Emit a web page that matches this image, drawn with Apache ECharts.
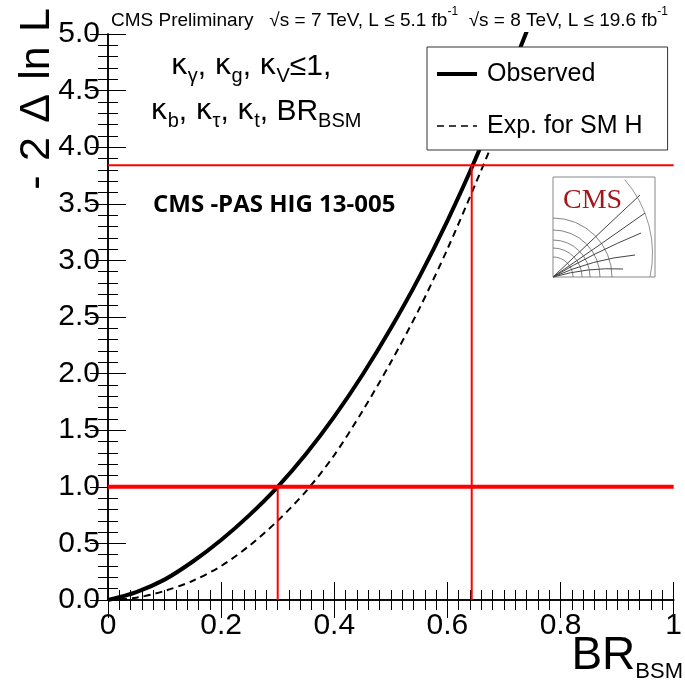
<!DOCTYPE html>
<html>
<head>
<meta charset="utf-8">
<script src="https://cdn.jsdelivr.net/npm/echarts@6/dist/echarts.min.js"></script>
<style>
  html, body { margin: 0; padding: 0; background: #fff; }
  #chart { width: 685px; height: 683px; }
</style>
</head>
<body>
<div id="chart"></div>
<script>
// Likelihood scan of BR(BSM) — CMS coupling fit
const brBSM    = [0, 0.05, 0.10, 0.15, 0.20, 0.25, 0.30, 0.35, 0.40, 0.45, 0.50, 0.55, 0.60, 0.65, 0.70, 0.75, 0.80];
const observed = [0, 0.07, 0.18, 0.34, 0.53, 0.75, 1.00, 1.29, 1.62, 1.99, 2.40, 2.85, 3.35, 3.90, 4.52, 5.15, 5.85];
// expected scan stops inside the legend area
const brBSMExp = [0, 0.05, 0.10, 0.15, 0.20, 0.25, 0.30, 0.35, 0.40, 0.45, 0.50, 0.55, 0.60, 0.65, 0.70];
const expected = [0, 0.02, 0.08, 0.17, 0.30, 0.48, 0.70, 0.96, 1.28, 1.67, 2.10, 2.57, 3.10, 3.68, 4.28];

// 68% and 95% CL thresholds and the observed crossings
const cl68 = 1.0, cl95 = 3.84;
const limit68 = 0.30, limit95 = 0.643;

const xTickLabels = ['0', '0.2', '0.4', '0.6', '0.8', '1'];
const yTickLabels = ['0.0', '0.5', '1.0', '1.5', '2.0', '2.5', '3.0', '3.5', '4.0', '4.5', '5.0'];

const FONT = 'Liberation Sans';
const pair = (xs, ys) => xs.map((x, i) => [x, ys[i]]);

const chart = echarts.init(document.getElementById('chart'), null, { renderer: 'canvas' });

const axisCommon = {
  type: 'value',
  axisLine: { show: true, lineStyle: { color: '#000', width: 1.5 } },
  axisTick: { show: true, inside: true, length: 18, lineStyle: { color: '#000', width: 1 } },
  minorTick: { show: true, length: 10, lineStyle: { color: '#000', width: 1 } },
  splitLine: { show: false },
  minorSplitLine: { show: false }
};

const redLine = (name, pts, w) => ({
  name, type: 'line', data: pts, symbol: 'none', silent: true, z: 4,
  lineStyle: { color: '#ff0000', width: w }, animation: false
});

// quarter rings of the detector sketch
const rings = [20, 29, 37, 47, 59].map(r => ({
  type: 'arc', shape: { cx: 0, cy: 100, r, startAngle: -Math.PI / 2, endAngle: 0, clockwise: true },
  style: { stroke: '#666', lineWidth: 0.8, fill: 'none' }
}));
// curved tracks of the detector sketch
const tracks = [[87, 18, 40, 62], [92, 36, 44, 70], [88, 56, 40, 76], [82, 78, 40, 82], [70, 92, 35, 90]].map(t => ({
  type: 'bezierCurve', shape: { x1: 0, y1: 100, x2: t[0], y2: t[1], cpx1: t[2], cpy1: t[3] },
  style: { stroke: '#444', lineWidth: 1, fill: 'none' }
}));

// one line of text with lowered subscripts
const subText = (x, y, text) => ({
  type: 'text', x, y, z: 20,
  style: {
    text, align: 'center', verticalAlign: 'top',
    rich: {
      n: { fontFamily: FONT, fontSize: 30, color: '#000', lineHeight: 34, verticalAlign: 'top' },
      k: { fontFamily: 'DejaVu Sans', fontSize: 29, color: '#000', lineHeight: 34, verticalAlign: 'top' },
      s: { fontFamily: FONT, fontSize: 20, color: '#000', lineHeight: 34, verticalAlign: 'bottom' }
    }
  }
});

chart.setOption({
  animation: false,
  backgroundColor: '#fff',
  color: ['#000', '#000'],
  grid: { left: 108, right: 4, top: 34, bottom: 83, containLabel: false },
  xAxis: [
    Object.assign({}, axisCommon, {
      min: 0, max: 1, interval: 0.2,
      minorTick: Object.assign({}, axisCommon.minorTick, { splitNumber: 10 }),
      axisLabel: {
        color: '#000', fontFamily: FONT, fontSize: 30, margin: 11,
        formatter: v => xTickLabels[Math.round(v / 0.2)]
      }
    }),
    Object.assign({}, axisCommon, {
      position: 'top', min: 0, max: 1, interval: 0.2,
      minorTick: Object.assign({}, axisCommon.minorTick, { splitNumber: 10 }),
      axisLabel: { show: false }
    })
  ],
  yAxis: [
    Object.assign({}, axisCommon, {
      min: 0, max: 5, interval: 0.5,
      minorTick: Object.assign({}, axisCommon.minorTick, { splitNumber: 5 }),
      axisLabel: {
        color: '#000', fontFamily: FONT, fontSize: 30, margin: 8,
        formatter: v => yTickLabels[Math.round(v / 0.5)]
      }
    }),
    Object.assign({}, axisCommon, {
      position: 'right', min: 0, max: 5, interval: 0.5,
      minorTick: Object.assign({}, axisCommon.minorTick, { splitNumber: 5 }),
      axisLabel: { show: false }
    })
  ],
  legend: {
    data: [
      { name: 'Observed', lineStyle: { width: 4 } },
      { name: 'Exp. for SM H', lineStyle: { width: 1.5 } }
    ],
    orient: 'vertical',
    left: 427, top: 47,
    padding: [12, 25, 9, 8],
    itemGap: 22,
    itemWidth: 40, itemHeight: 14,
    itemStyle: { opacity: 0 },
    backgroundColor: '#fff',
    borderColor: '#333', borderWidth: 1, borderRadius: 0,
    z: 10,
    textStyle: { fontFamily: FONT, fontSize: 25, color: '#000', lineHeight: 30, padding: [0, 0, 0, 5] },
    selectedMode: false
  },
  series: [
    {
      name: 'Observed', type: 'line', data: pair(brBSM, observed),
      symbol: 'none', smooth: 0.3, z: 3,
      itemStyle: { color: '#000' },
      lineStyle: { color: '#000', width: 4 }
    },
    {
      name: 'Exp. for SM H', type: 'line', data: pair(brBSMExp, expected),
      symbol: 'none', smooth: 0.3, z: 3,
      itemStyle: { color: '#000' },
      lineStyle: { color: '#000', width: 2, type: [7, 5] }
    },
    redLine('cl95', [[0, cl95], [1, cl95]], 2),
    redLine('cl68', [[0, cl68], [1, cl68]], 4),
    redLine('lim68', [[limit68, 0], [limit68, cl68]], 2),
    redLine('lim95', [[limit95, 0], [limit95, cl95]], 2)
  ],
  graphic: [
    // header line
    {
      type: 'text', left: 111, top: 6, z: 20,
      style: {
        text: '{n|CMS Preliminary   √s = 7 TeV, L ≤ 5.1 fb}{s|-1}{n|  √s = 8 TeV, L ≤ 19.6 fb}{s|-1}',
        rich: {
          n: { fontFamily: FONT, fontSize: 19, color: '#000', lineHeight: 24, verticalAlign: 'bottom' },
          s: { fontFamily: FONT, fontSize: 12, color: '#000', lineHeight: 24, verticalAlign: 'top' }
        }
      }
    },
    // y axis title
    {
      type: 'text', x: 37, y: 8, rotation: Math.PI / 2, z: 20,
      style: {
        text: '-\u20042\u2004Δ\u2004ln\u2004L', fontFamily: FONT, fontSize: 43, fill: '#000',
        align: 'right', verticalAlign: 'middle'
      }
    },
    // x axis title
    {
      type: 'text', x: 683, y: 633, z: 20,
      style: {
        text: '{n|BR}{s|BSM}',
        align: 'right', verticalAlign: 'top',
        rich: {
          n: { fontFamily: FONT, fontSize: 46, color: '#000', lineHeight: 50, verticalAlign: 'top' },
          s: { fontFamily: FONT, fontSize: 22, color: '#000', lineHeight: 15, verticalAlign: 'bottom' }
        }
      }
    },
    // coupling labels
    subText(251, 52, '{k|κ}{s|γ}{n|, }{k|κ}{s|g}{n|, }{k|κ}{s|V}{n|≤1,}'),
    subText(256, 97, '{k|κ}{s|b}{n|, }{k|κ}{s|τ}{n|, }{k|κ}{s|t}{n|, BR}{s|BSM}'),
    // document reference
    {
      type: 'text', x: 153, y: 205, z: 20,
      style: {
        text: 'CMS -PAS HIG 13-005', fontFamily: 'Open Sans', fontWeight: 'bold',
        fontSize: 24, fill: '#000', verticalAlign: 'middle'
      }
    },
    // CMS logo
    {
      type: 'group', x: 553, y: 177, z: 20,
      children: [
        { type: 'rect', shape: { x: 0, y: 0, width: 102, height: 100 },
          style: { fill: '#fff', stroke: '#888', lineWidth: 1 } },
        ...rings,
        { type: 'arc', shape: { cx: -12.5, cy: 76.5, r: 112, startAngle: -0.72, endAngle: 0.21, clockwise: true },
          style: { stroke: '#777', lineWidth: 0.8, fill: 'none' } },
        ...tracks,
        { type: 'text', x: 10, y: 10,
          style: { text: 'CMS', fontFamily: 'Liberation Serif', fontSize: 28, fill: '#a3161c' } }
      ]
    }
  ]
});
</script>
</body>
</html>
